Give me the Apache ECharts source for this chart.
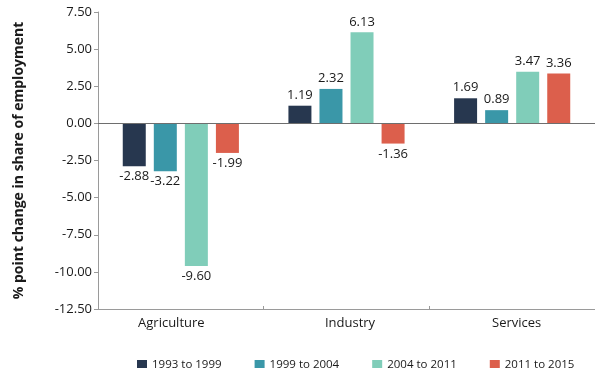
<!DOCTYPE html>
<html>
<head>
<meta charset="utf-8">
<script src="https://cdn.jsdelivr.net/npm/echarts@6/dist/echarts.min.js"></script>
<style>
  html, body { margin: 0; padding: 0; background: #fff; }
  #chart { width: 595px; height: 368px; }
</style>
</head>
<body>
<div id="chart"></div>
<script>
// Sectors and periods
const categories = ['Agriculture', 'Industry', 'Services'];
const periods = ['1993 to 1999', '1999 to 2004', '2004 to 2011', '2011 to 2015'];

// Percentage-point change in share of employment, per period
const p1993to1999 = [-2.88, 1.19, 1.69];
const p1999to2004 = [-3.22, 2.32, 0.89];
const p2004to2011 = [-9.60, 6.13, 3.47];
const p2011to2015 = [-1.99, -1.36, 3.36];

// Value axis ticks
const yTicks = [-12.5, -10, -7.5, -5, -2.5, 0, 2.5, 5, 7.5];

const seriesValues = [p1993to1999, p1999to2004, p2004to2011, p2011to2015];
const colors = ['#27374f', '#3a97a8', '#80cdb9', '#dc5f4c'];
const FONT = '"Open Sans", "Noto Sans", sans-serif';
const TEXT = '#1a1a1a';

const chart = echarts.init(document.getElementById('chart'), null, { renderer: 'canvas' });

const series = periods.map((name, i) => ({
  name: name,
  type: 'bar',
  data: seriesValues[i].map(v => ({
    value: v,
    label: { position: v >= 0 ? 'top' : 'bottom' }
  })),
  barWidth: 23,
  barGap: '35%',
  itemStyle: { color: colors[i] },
  label: {
    show: true,
    distance: 4,
    color: TEXT,
    fontFamily: FONT,
    fontSize: 13,
    formatter: p => p.value.toFixed(2)
  },
  emphasis: { disabled: true },
  animation: false
}));

// Zero reference line
series[0].markLine = {
  silent: true,
  symbol: 'none',
  label: { show: false },
  lineStyle: { color: '#6e6e6e', width: 1, type: 'solid' },
  data: [{ yAxis: 0 }],
  animation: false
};

chart.setOption({
  animation: false,
  color: colors,
  grid: { left: 98, right: -4, top: 12, bottom: 59, containLabel: false },
  legend: {
    data: periods,
    bottom: -8,
    left: 132,
    itemWidth: 10,
    itemHeight: 10,
    itemGap: 33,
    icon: 'rect',
    textStyle: { fontFamily: FONT, fontSize: 11.5, color: TEXT },
    selectedMode: false
  },
  xAxis: {
    type: 'category',
    data: categories,
    position: 'bottom',
    axisLine: { onZero: false, lineStyle: { color: '#9a9a9a', width: 1 } },
    axisTick: { show: true, inside: true, length: 3, lineStyle: { color: '#9a9a9a' } },
    axisLabel: {
      margin: 8,
      color: TEXT,
      fontFamily: FONT,
      fontSize: 13,
      formatter: v => '{' + v.charAt(0) + '|' + v + '}',
      rich: {
        A: { fontFamily: FONT, fontSize: 13, color: TEXT, padding: [0, 19, 0, 0] },
        I: { fontFamily: FONT, fontSize: 13, color: TEXT, padding: [0, 0, 0, 7] },
        S: { fontFamily: FONT, fontSize: 13, color: TEXT, padding: [0, 0, 0, 9] }
      }
    },
    splitLine: { show: false }
  },
  yAxis: {
    type: 'value',
    min: yTicks[0],
    max: yTicks[yTicks.length - 1],
    interval: 2.5,
    name: '% point change in share of employment',
    nameLocation: 'middle',
    nameRotate: 90,
    nameGap: 72,
    nameTextStyle: { fontFamily: FONT, fontSize: 14, fontWeight: 'bold', color: TEXT },
    axisLine: { show: true, lineStyle: { color: '#9a9a9a', width: 1 } },
    axisTick: { show: true, length: 4, lineStyle: { color: '#9a9a9a' } },
    axisLabel: {
      margin: 6,
      color: TEXT,
      fontFamily: FONT,
      fontSize: 13,
      formatter: v => v.toFixed(2)
    },
    splitLine: { show: false }
  },
  series: series
});
</script>
</body>
</html>
